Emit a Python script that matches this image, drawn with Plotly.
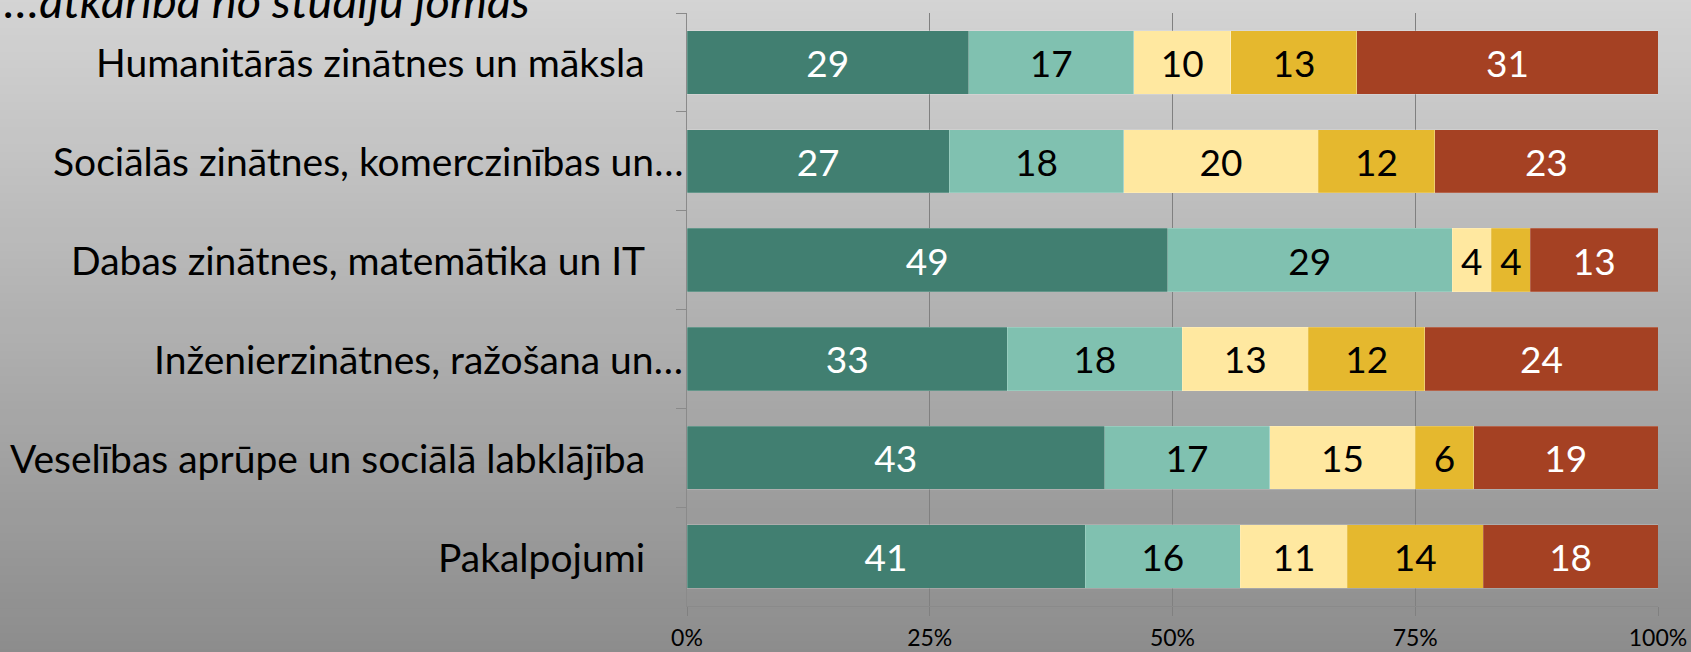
import plotly.graph_objects as go

categories = [
    "Humanitārās zinātnes un māksla",
    "Sociālās zinātnes, komerczinības un…",
    "Dabas zinātnes, matemātika un IT",
    "Inženierzinātnes, ražošana un…",
    "Veselības aprūpe un sociālā labklājība",
    "Pakalpojumi",
]
series_names = ["1", "2", "3", "4", "5"]
s1 = [29, 27, 49, 33, 43, 41]
s2 = [17, 18, 29, 18, 17, 16]
s3 = [10, 20, 4, 13, 15, 11]
s4 = [13, 12, 4, 12, 6, 14]
s5 = [31, 23, 13, 24, 19, 18]
series_values = [s1, s2, s3, s4, s5]
x_tick_vals = [0, 25, 50, 75, 100]
x_tick_text = ["0%", "25%", "50%", "75%", "100%"]
title_text = "…atkarība no studiju jomas"

colors = ["#417f71", "#80c1b0", "#ffe8a0", "#e5b82e", "#a54123"]
text_colors = ["white", "black", "black", "black", "white"]

FONT = "Lato"
W, H = 1691, 652
ML, MR, MT, MB = 687, 33, 13, 46
PW, PH = W - ML - MR, H - MT - MB

fig = go.Figure()
for name, vals, c, tc in zip(series_names, series_values, colors, text_colors):
    fig.add_trace(go.Bar(
        y=categories, x=vals, name=name, orientation="h",
        marker=dict(color=c, line=dict(width=0.6, color="rgba(255,255,255,0.3)")),
        text=[str(v) for v in vals], textposition="inside",
        insidetextanchor="middle", textangle=0, constraintext="none",
        textfont=dict(family=FONT, size=37, color=tc),
        hoverinfo="x+y",
    ))

# gradient background strips
shapes = []
n = 80
top = (212, 212, 212)
bot = (140, 140, 140)
x0 = -ML / PW - 0.01
x1 = 1 + MR / PW + 0.01
y_bottom = -MB / PH - 0.01
y_top = 1 + MT / PH + 0.01
for i in range(n):
    t = i / (n - 1)
    col = tuple(round(bot[k] + (top[k] - bot[k]) * t) for k in range(3))
    ya = y_bottom + (y_top - y_bottom) * i / n
    yb = y_bottom + (y_top - y_bottom) * (i + 1) / n
    shapes.append(dict(type="rect", xref="paper", yref="paper", x0=x0, x1=x1,
                       y0=ya, y1=yb + 0.002, fillcolor="rgb(%d,%d,%d)" % col,
                       line=dict(width=0), layer="below"))

annotations = []
for cat in categories:
    truncated = cat.endswith("…")
    annotations.append(dict(
        x=0, y=cat, xref="x", yref="y", text=cat, showarrow=False,
        xanchor="right", yanchor="middle", xshift=-2 if truncated else -40,
        font=dict(family=FONT, size=39, color="black"),
    ))
annotations.append(dict(
    x=-ML / PW, y=1, xref="paper", yref="paper", text="<i>" + title_text + "</i>",
    showarrow=False, xanchor="left", yanchor="bottom", yshift=-17, xshift=2,
    font=dict(family=FONT, size=47, color="black"),
))

fig.update_layout(
    width=W, height=H, autosize=False,
    margin=dict(l=ML, r=MR, t=MT, b=MB, autoexpand=False),
    barmode="stack", barnorm="percent", bargap=0.36,
    paper_bgcolor="#b0b0b0", plot_bgcolor="rgba(0,0,0,0)",
    showlegend=False,
    shapes=shapes, annotations=annotations,
    xaxis=dict(range=[0, 100], tickvals=x_tick_vals, ticktext=x_tick_text,
               showgrid=True, gridcolor="#808080", gridwidth=1,
               showline=True, linecolor="#8a8a8a", linewidth=1,
               ticks="outside", ticklen=9, tickcolor="#808080",
               ticklabelstandoff=2, automargin=False,
               tickfont=dict(family=FONT, size=23, color="black"),
               zeroline=False, fixedrange=True),
    yaxis=dict(autorange="reversed", showticklabels=False, automargin=False,
               showline=True, linecolor="#8a8a8a", linewidth=1,
               ticks="outside", tickson="boundaries", ticklen=10,
               tickcolor="#8a8a8a", showgrid=False, fixedrange=True),
)

fig.write_html(
    "out.html",
    config={"displayModeBar": False, "responsive": False},
    post_script=(
        "document.documentElement.style.margin='0';"
        "document.documentElement.style.overflow='hidden';"
        "document.body.style.margin='0';document.body.style.padding='0';"
        "document.body.style.overflow='hidden';"
    ),
)
